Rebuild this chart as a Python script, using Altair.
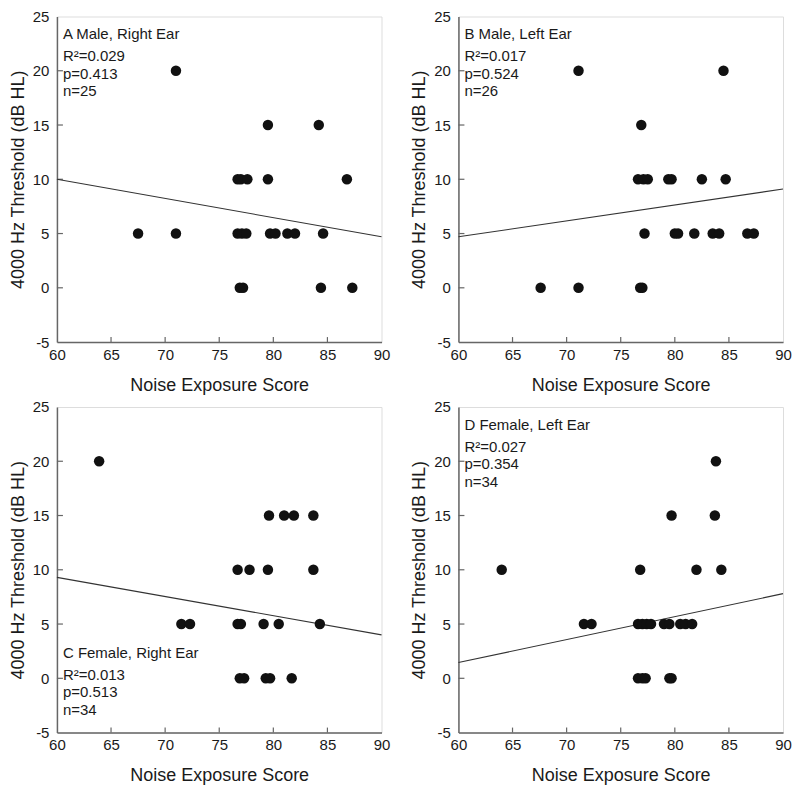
import altair as alt
import pandas as pd

# ---- data ----
a_x = [71.0, 79.5, 84.2, 76.7, 77.0, 77.6, 79.5, 86.8,
       67.5, 71.0, 76.7, 77.1, 77.5, 79.7, 80.2, 81.3, 82.0, 84.6,
       76.9, 77.2, 84.4, 87.3]
a_y = [20, 15, 15, 10, 10, 10, 10, 10,
       5, 5, 5, 5, 5, 5, 5, 5, 5, 5,
       0, 0, 0, 0]

b_x = [71.1, 84.5, 76.9,
       76.6, 77.1, 77.5, 79.4, 79.7, 82.5, 84.7,
       77.2, 80.0, 80.3, 81.8, 83.5, 84.1, 86.7, 87.3,
       67.6, 71.1, 76.8, 77.0]
b_y = [20, 20, 15,
       10, 10, 10, 10, 10, 10, 10,
       5, 5, 5, 5, 5, 5, 5, 5,
       0, 0, 0, 0]

c_x = [63.9,
       79.6, 81.0, 81.9, 83.7,
       76.7, 77.8, 79.5, 83.7,
       71.5, 72.3, 76.7, 77.0, 79.1, 80.5, 84.3,
       76.9, 77.3, 79.3, 79.7, 81.7]
c_y = [20,
       15, 15, 15, 15,
       10, 10, 10, 10,
       5, 5, 5, 5, 5, 5, 5,
       0, 0, 0, 0, 0]

d_x = [83.8,
       79.7, 83.7,
       64.0, 76.8, 82.0, 84.3,
       71.6, 72.3, 76.6, 77.0, 77.4, 77.8, 79.0, 79.5, 80.5, 81.0, 81.6,
       76.6, 77.0, 77.3, 79.5, 79.7]
d_y = [20,
       15, 15,
       10, 10, 10, 10,
       5, 5, 5, 5, 5, 5, 5, 5, 5, 5, 5,
       0, 0, 0, 0, 0]

fit_x = [60, 90]
a_fit = [10.0, 4.7]
b_fit = [4.7, 9.1]
c_fit = [9.3, 4.0]
d_fit = [1.45, 7.8]

a_head, a_stats = "A Male, Right Ear", ["R\u00b2=0.029", "p=0.413", "n=25"]
b_head, b_stats = "B Male, Left Ear", ["R\u00b2=0.017", "p=0.524", "n=26"]
c_head, c_stats = "C Female, Right Ear", ["R\u00b2=0.013", "p=0.513", "n=34"]
d_head, d_stats = "D Female, Left Ear", ["R\u00b2=0.027", "p=0.354", "n=34"]

x_ticks = [65, 70, 75, 80, 85]
y_ticks = [0, 5, 10, 15, 20]
x_labels = [60, 65, 70, 75, 80, 85, 90]
y_labels = [-5, 0, 5, 10, 15, 20, 25]

W, H = 325, 326
FONT = "Liberation Sans"
INK = "#1a1a1a"
FRAME = "#666666"


def panel(px, py, fy, head, stats, top):
    pts = pd.DataFrame({"x": px, "y": py})
    fit = pd.DataFrame({"x": fit_x, "y": fy})
    hd = pd.DataFrame({"t": [head]})
    st = pd.DataFrame({"t": ["\n".join(stats)]})
    xt = pd.DataFrame({"v": x_ticks})
    yt = pd.DataFrame({"v": y_ticks})

    xs = alt.Scale(domain=[60, 90], nice=False, zero=False)
    ys = alt.Scale(domain=[-5, 25], nice=False, zero=False)

    xaxis = alt.Axis(values=x_labels, title="Noise Exposure Score", ticks=False,
                     grid=False, labelFontSize=15, titleFontSize=18,
                     labelPadding=5, titlePadding=14, titleFontWeight="normal",
                     domainColor=FRAME, domainWidth=1.5, labelFlush=False,
                     labelColor=INK, titleColor=INK, labelFont=FONT, titleFont=FONT)
    yaxis = alt.Axis(values=y_labels, title="4000 Hz Threshold (dB HL)", ticks=False,
                     grid=False, labelFontSize=15, titleFontSize=18,
                     labelPadding=8, titlePadding=5, titleFontWeight="normal",
                     domainColor=FRAME, domainWidth=1.5, labelFlush=False,
                     labelExpr="'' + datum.value",
                     labelColor=INK, titleColor=INK, labelFont=FONT, titleFont=FONT)

    base_pts = alt.Chart(pts).mark_circle(size=110, color="#111111", opacity=1).encode(
        x=alt.X("x:Q", scale=xs, axis=xaxis),
        y=alt.Y("y:Q", scale=ys, axis=yaxis),
    )
    line = alt.Chart(fit).mark_line(color="#333333", strokeWidth=1.1).encode(
        x=alt.X("x:Q", scale=xs), y=alt.Y("y:Q", scale=ys)
    )
    xtick = alt.Chart(xt).mark_rule(color=FRAME, strokeWidth=1.2).encode(
        x=alt.X("v:Q", scale=xs), y=alt.value(H), y2=alt.value(H - 5)
    )
    ytick = alt.Chart(yt).mark_rule(color=FRAME, strokeWidth=1.2).encode(
        y=alt.Y("v:Q", scale=ys), x=alt.value(0), x2=alt.value(6)
    )
    head_txt = alt.Chart(hd).mark_text(
        align="left", baseline="top", fontSize=15, font=FONT, color=INK
    ).encode(x=alt.value(6), y=alt.value(top), text="t:N")
    stat_txt = alt.Chart(st).mark_text(
        align="left", baseline="top", lineBreak="\n", lineHeight=17.5,
        fontSize=15, font=FONT, color=INK
    ).encode(x=alt.value(6), y=alt.value(top + 22), text="t:N")

    return alt.layer(xtick, ytick, line, base_pts, head_txt, stat_txt).properties(
        width=W, height=H)


pa = panel(a_x, a_y, a_fit, a_head, a_stats, 11)
pb = panel(b_x, b_y, b_fit, b_head, b_stats, 11)
pc = panel(c_x, c_y, c_fit, c_head, c_stats, H - 87)
pd_ = panel(d_x, d_y, d_fit, d_head, d_stats, 11)

chart = alt.concat(
    pa, pb, pc, pd_, columns=2,
    spacing=alt.RowColnumber(row=65, column=77), bounds="flush",
).configure_view(stroke=FRAME, strokeWidth=1.5).configure(background="white", padding=0)

chart.save("out.html", embed_options={"renderer": "svg", "actions": False})
